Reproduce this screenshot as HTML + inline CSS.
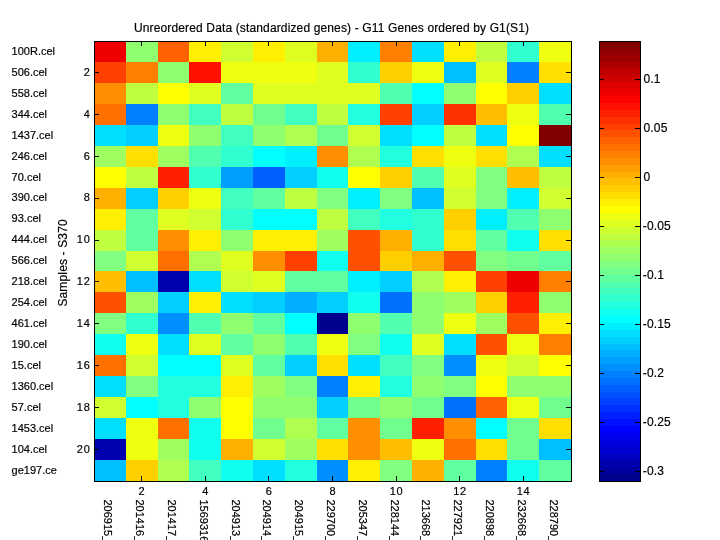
<!DOCTYPE html>
<html><head><meta charset="utf-8"><title>Heatmap</title>
<style>
html,body{margin:0;padding:0;background:#fff;}
body{width:720px;height:540px;overflow:hidden;}
svg{display:block;will-change:transform;}
text{font-family:"Liberation Sans",Arial,Helvetica,sans-serif;fill:#000;stroke:#000;stroke-width:0.18px;}
</style></head><body>
<svg width="720" height="540" viewBox="0 0 720 540">
<rect x="0" y="0" width="720" height="540" fill="#ffffff"/>
<g shape-rendering="crispEdges">
<rect x="94" y="41" width="32" height="21" fill="#ef0000"/><rect x="126" y="41" width="32" height="21" fill="#8fff70"/><rect x="158" y="41" width="31" height="21" fill="#ff6000"/><rect x="189" y="41" width="32" height="21" fill="#ffef00"/><rect x="221" y="41" width="32" height="21" fill="#cfff30"/><rect x="253" y="41" width="32" height="21" fill="#ffef00"/><rect x="285" y="41" width="32" height="21" fill="#dfff20"/><rect x="317" y="41" width="31" height="21" fill="#ffaf00"/><rect x="348" y="41" width="32" height="21" fill="#00efff"/><rect x="380" y="41" width="32" height="21" fill="#ff8000"/><rect x="412" y="41" width="32" height="21" fill="#00dfff"/><rect x="444" y="41" width="32" height="21" fill="#ffef00"/><rect x="476" y="41" width="31" height="21" fill="#bfff40"/><rect x="507" y="41" width="32" height="21" fill="#30ffcf"/><rect x="539" y="41" width="32" height="21" fill="#efff10"/>
<rect x="94" y="62" width="32" height="21" fill="#ff4000"/><rect x="126" y="62" width="32" height="21" fill="#ff8000"/><rect x="158" y="62" width="31" height="21" fill="#8fff70"/><rect x="189" y="62" width="32" height="21" fill="#ff1000"/><rect x="221" y="62" width="32" height="21" fill="#efff10"/><rect x="253" y="62" width="32" height="21" fill="#efff10"/><rect x="285" y="62" width="32" height="21" fill="#efff10"/><rect x="317" y="62" width="31" height="21" fill="#dfff20"/><rect x="348" y="62" width="32" height="21" fill="#30ffcf"/><rect x="380" y="62" width="32" height="21" fill="#ffcf00"/><rect x="412" y="62" width="32" height="21" fill="#efff10"/><rect x="444" y="62" width="32" height="21" fill="#00bfff"/><rect x="476" y="62" width="31" height="21" fill="#dfff20"/><rect x="507" y="62" width="32" height="21" fill="#0080ff"/><rect x="539" y="62" width="32" height="21" fill="#ffdf00"/>
<rect x="94" y="83" width="32" height="21" fill="#ff8f00"/><rect x="126" y="83" width="32" height="21" fill="#bfff40"/><rect x="158" y="83" width="31" height="21" fill="#ffff00"/><rect x="189" y="83" width="32" height="21" fill="#dfff20"/><rect x="221" y="83" width="32" height="21" fill="#60ff9f"/><rect x="253" y="83" width="32" height="21" fill="#dfff20"/><rect x="285" y="83" width="32" height="21" fill="#dfff20"/><rect x="317" y="83" width="31" height="21" fill="#dfff20"/><rect x="348" y="83" width="32" height="21" fill="#dfff20"/><rect x="380" y="83" width="32" height="21" fill="#50ffaf"/><rect x="412" y="83" width="32" height="21" fill="#00ffff"/><rect x="444" y="83" width="32" height="21" fill="#8fff70"/><rect x="476" y="83" width="31" height="21" fill="#ffff00"/><rect x="507" y="83" width="32" height="21" fill="#ffcf00"/><rect x="539" y="83" width="32" height="21" fill="#00dfff"/>
<rect x="94" y="104" width="32" height="21" fill="#ff7000"/><rect x="126" y="104" width="32" height="21" fill="#0080ff"/><rect x="158" y="104" width="31" height="21" fill="#8fff70"/><rect x="189" y="104" width="32" height="21" fill="#40ffbf"/><rect x="221" y="104" width="32" height="21" fill="#bfff40"/><rect x="253" y="104" width="32" height="21" fill="#70ff8f"/><rect x="285" y="104" width="32" height="21" fill="#40ffbf"/><rect x="317" y="104" width="31" height="21" fill="#bfff40"/><rect x="348" y="104" width="32" height="21" fill="#20ffdf"/><rect x="380" y="104" width="32" height="21" fill="#ff4000"/><rect x="412" y="104" width="32" height="21" fill="#00cfff"/><rect x="444" y="104" width="32" height="21" fill="#ff3000"/><rect x="476" y="104" width="31" height="21" fill="#ffbf00"/><rect x="507" y="104" width="32" height="21" fill="#efff10"/><rect x="539" y="104" width="32" height="21" fill="#50ffaf"/>
<rect x="94" y="125" width="32" height="21" fill="#00dfff"/><rect x="126" y="125" width="32" height="21" fill="#00cfff"/><rect x="158" y="125" width="31" height="21" fill="#efff10"/><rect x="189" y="125" width="32" height="21" fill="#8fff70"/><rect x="221" y="125" width="32" height="21" fill="#40ffbf"/><rect x="253" y="125" width="32" height="21" fill="#8fff70"/><rect x="285" y="125" width="32" height="21" fill="#afff50"/><rect x="317" y="125" width="31" height="21" fill="#70ff8f"/><rect x="348" y="125" width="32" height="21" fill="#cfff30"/><rect x="380" y="125" width="32" height="21" fill="#00dfff"/><rect x="412" y="125" width="32" height="21" fill="#00ffff"/><rect x="444" y="125" width="32" height="21" fill="#bfff40"/><rect x="476" y="125" width="31" height="21" fill="#00dfff"/><rect x="507" y="125" width="32" height="21" fill="#ffff00"/><rect x="539" y="125" width="32" height="21" fill="#800000"/>
<rect x="94" y="146" width="32" height="21" fill="#9fff60"/><rect x="126" y="146" width="32" height="21" fill="#ffdf00"/><rect x="158" y="146" width="31" height="21" fill="#9fff60"/><rect x="189" y="146" width="32" height="21" fill="#50ffaf"/><rect x="221" y="146" width="32" height="21" fill="#30ffcf"/><rect x="253" y="146" width="32" height="21" fill="#00ffff"/><rect x="285" y="146" width="32" height="21" fill="#00efff"/><rect x="317" y="146" width="31" height="21" fill="#ff8f00"/><rect x="348" y="146" width="32" height="21" fill="#afff50"/><rect x="380" y="146" width="32" height="21" fill="#20ffdf"/><rect x="412" y="146" width="32" height="21" fill="#ffdf00"/><rect x="444" y="146" width="32" height="21" fill="#efff10"/><rect x="476" y="146" width="31" height="21" fill="#ffdf00"/><rect x="507" y="146" width="32" height="21" fill="#afff50"/><rect x="539" y="146" width="32" height="21" fill="#00dfff"/>
<rect x="94" y="167" width="32" height="21" fill="#ffff00"/><rect x="126" y="167" width="32" height="21" fill="#bfff40"/><rect x="158" y="167" width="31" height="21" fill="#ff2000"/><rect x="189" y="167" width="32" height="21" fill="#30ffcf"/><rect x="221" y="167" width="32" height="21" fill="#009fff"/><rect x="253" y="167" width="32" height="21" fill="#0060ff"/><rect x="285" y="167" width="32" height="21" fill="#00cfff"/><rect x="317" y="167" width="31" height="21" fill="#10ffef"/><rect x="348" y="167" width="32" height="21" fill="#ffff00"/><rect x="380" y="167" width="32" height="21" fill="#ffcf00"/><rect x="412" y="167" width="32" height="21" fill="#50ffaf"/><rect x="444" y="167" width="32" height="21" fill="#dfff20"/><rect x="476" y="167" width="31" height="21" fill="#80ff80"/><rect x="507" y="167" width="32" height="21" fill="#ffbf00"/><rect x="539" y="167" width="32" height="21" fill="#bfff40"/>
<rect x="94" y="188" width="32" height="21" fill="#ffaf00"/><rect x="126" y="188" width="32" height="21" fill="#00cfff"/><rect x="158" y="188" width="31" height="21" fill="#ffcf00"/><rect x="189" y="188" width="32" height="21" fill="#efff10"/><rect x="221" y="188" width="32" height="21" fill="#40ffbf"/><rect x="253" y="188" width="32" height="21" fill="#60ff9f"/><rect x="285" y="188" width="32" height="21" fill="#bfff40"/><rect x="317" y="188" width="31" height="21" fill="#80ff80"/><rect x="348" y="188" width="32" height="21" fill="#00efff"/><rect x="380" y="188" width="32" height="21" fill="#80ff80"/><rect x="412" y="188" width="32" height="21" fill="#00bfff"/><rect x="444" y="188" width="32" height="21" fill="#cfff30"/><rect x="476" y="188" width="31" height="21" fill="#80ff80"/><rect x="507" y="188" width="32" height="21" fill="#00efff"/><rect x="539" y="188" width="32" height="21" fill="#cfff30"/>
<rect x="94" y="209" width="32" height="21" fill="#ffef00"/><rect x="126" y="209" width="32" height="21" fill="#60ff9f"/><rect x="158" y="209" width="31" height="21" fill="#dfff20"/><rect x="189" y="209" width="32" height="21" fill="#cfff30"/><rect x="221" y="209" width="32" height="21" fill="#30ffcf"/><rect x="253" y="209" width="32" height="21" fill="#00ffff"/><rect x="285" y="209" width="32" height="21" fill="#00ffff"/><rect x="317" y="209" width="31" height="21" fill="#bfff40"/><rect x="348" y="209" width="32" height="21" fill="#40ffbf"/><rect x="380" y="209" width="32" height="21" fill="#20ffdf"/><rect x="412" y="209" width="32" height="21" fill="#30ffcf"/><rect x="444" y="209" width="32" height="21" fill="#ffcf00"/><rect x="476" y="209" width="31" height="21" fill="#00efff"/><rect x="507" y="209" width="32" height="21" fill="#50ffaf"/><rect x="539" y="209" width="32" height="21" fill="#8fff70"/>
<rect x="94" y="230" width="32" height="21" fill="#bfff40"/><rect x="126" y="230" width="32" height="21" fill="#60ff9f"/><rect x="158" y="230" width="31" height="21" fill="#ff8f00"/><rect x="189" y="230" width="32" height="21" fill="#ffef00"/><rect x="221" y="230" width="32" height="21" fill="#8fff70"/><rect x="253" y="230" width="32" height="21" fill="#ffef00"/><rect x="285" y="230" width="32" height="21" fill="#ffef00"/><rect x="317" y="230" width="31" height="21" fill="#9fff60"/><rect x="348" y="230" width="32" height="21" fill="#ff5000"/><rect x="380" y="230" width="32" height="21" fill="#ffaf00"/><rect x="412" y="230" width="32" height="21" fill="#30ffcf"/><rect x="444" y="230" width="32" height="21" fill="#ffdf00"/><rect x="476" y="230" width="31" height="21" fill="#60ff9f"/><rect x="507" y="230" width="32" height="21" fill="#10ffef"/><rect x="539" y="230" width="32" height="21" fill="#ffdf00"/>
<rect x="94" y="251" width="32" height="20" fill="#80ff80"/><rect x="126" y="251" width="32" height="20" fill="#cfff30"/><rect x="158" y="251" width="31" height="20" fill="#ff7000"/><rect x="189" y="251" width="32" height="20" fill="#afff50"/><rect x="221" y="251" width="32" height="20" fill="#dfff20"/><rect x="253" y="251" width="32" height="20" fill="#ff8f00"/><rect x="285" y="251" width="32" height="20" fill="#ff4000"/><rect x="317" y="251" width="31" height="20" fill="#10ffef"/><rect x="348" y="251" width="32" height="20" fill="#ff5000"/><rect x="380" y="251" width="32" height="20" fill="#ffcf00"/><rect x="412" y="251" width="32" height="20" fill="#ffaf00"/><rect x="444" y="251" width="32" height="20" fill="#ff5000"/><rect x="476" y="251" width="31" height="20" fill="#80ff80"/><rect x="507" y="251" width="32" height="20" fill="#70ff8f"/><rect x="539" y="251" width="32" height="20" fill="#60ff9f"/>
<rect x="94" y="271" width="32" height="21" fill="#ffbf00"/><rect x="126" y="271" width="32" height="21" fill="#00bfff"/><rect x="158" y="271" width="31" height="21" fill="#0000af"/><rect x="189" y="271" width="32" height="21" fill="#00dfff"/><rect x="221" y="271" width="32" height="21" fill="#cfff30"/><rect x="253" y="271" width="32" height="21" fill="#dfff20"/><rect x="285" y="271" width="32" height="21" fill="#60ff9f"/><rect x="317" y="271" width="31" height="21" fill="#60ff9f"/><rect x="348" y="271" width="32" height="21" fill="#00efff"/><rect x="380" y="271" width="32" height="21" fill="#00cfff"/><rect x="412" y="271" width="32" height="21" fill="#afff50"/><rect x="444" y="271" width="32" height="21" fill="#ffef00"/><rect x="476" y="271" width="31" height="21" fill="#ff4000"/><rect x="507" y="271" width="32" height="21" fill="#ef0000"/><rect x="539" y="271" width="32" height="21" fill="#ff8000"/>
<rect x="94" y="292" width="32" height="21" fill="#ff5000"/><rect x="126" y="292" width="32" height="21" fill="#9fff60"/><rect x="158" y="292" width="31" height="21" fill="#00cfff"/><rect x="189" y="292" width="32" height="21" fill="#ffef00"/><rect x="221" y="292" width="32" height="21" fill="#00dfff"/><rect x="253" y="292" width="32" height="21" fill="#00cfff"/><rect x="285" y="292" width="32" height="21" fill="#00afff"/><rect x="317" y="292" width="31" height="21" fill="#00cfff"/><rect x="348" y="292" width="32" height="21" fill="#10ffef"/><rect x="380" y="292" width="32" height="21" fill="#0070ff"/><rect x="412" y="292" width="32" height="21" fill="#8fff70"/><rect x="444" y="292" width="32" height="21" fill="#9fff60"/><rect x="476" y="292" width="31" height="21" fill="#ffcf00"/><rect x="507" y="292" width="32" height="21" fill="#ff2000"/><rect x="539" y="292" width="32" height="21" fill="#8fff70"/>
<rect x="94" y="313" width="32" height="21" fill="#80ff80"/><rect x="126" y="313" width="32" height="21" fill="#30ffcf"/><rect x="158" y="313" width="31" height="21" fill="#008fff"/><rect x="189" y="313" width="32" height="21" fill="#50ffaf"/><rect x="221" y="313" width="32" height="21" fill="#8fff70"/><rect x="253" y="313" width="32" height="21" fill="#60ff9f"/><rect x="285" y="313" width="32" height="21" fill="#00ffff"/><rect x="317" y="313" width="31" height="21" fill="#00008f"/><rect x="348" y="313" width="32" height="21" fill="#8fff70"/><rect x="380" y="313" width="32" height="21" fill="#50ffaf"/><rect x="412" y="313" width="32" height="21" fill="#8fff70"/><rect x="444" y="313" width="32" height="21" fill="#efff10"/><rect x="476" y="313" width="31" height="21" fill="#9fff60"/><rect x="507" y="313" width="32" height="21" fill="#ff5000"/><rect x="539" y="313" width="32" height="21" fill="#ffef00"/>
<rect x="94" y="334" width="32" height="21" fill="#10ffef"/><rect x="126" y="334" width="32" height="21" fill="#efff10"/><rect x="158" y="334" width="31" height="21" fill="#00dfff"/><rect x="189" y="334" width="32" height="21" fill="#dfff20"/><rect x="221" y="334" width="32" height="21" fill="#60ff9f"/><rect x="253" y="334" width="32" height="21" fill="#8fff70"/><rect x="285" y="334" width="32" height="21" fill="#50ffaf"/><rect x="317" y="334" width="31" height="21" fill="#efff10"/><rect x="348" y="334" width="32" height="21" fill="#80ff80"/><rect x="380" y="334" width="32" height="21" fill="#10ffef"/><rect x="412" y="334" width="32" height="21" fill="#dfff20"/><rect x="444" y="334" width="32" height="21" fill="#00dfff"/><rect x="476" y="334" width="31" height="21" fill="#ff5000"/><rect x="507" y="334" width="32" height="21" fill="#efff10"/><rect x="539" y="334" width="32" height="21" fill="#ff8000"/>
<rect x="94" y="355" width="32" height="21" fill="#ff7000"/><rect x="126" y="355" width="32" height="21" fill="#cfff30"/><rect x="158" y="355" width="31" height="21" fill="#00ffff"/><rect x="189" y="355" width="32" height="21" fill="#00ffff"/><rect x="221" y="355" width="32" height="21" fill="#dfff20"/><rect x="253" y="355" width="32" height="21" fill="#60ff9f"/><rect x="285" y="355" width="32" height="21" fill="#00cfff"/><rect x="317" y="355" width="31" height="21" fill="#ffdf00"/><rect x="348" y="355" width="32" height="21" fill="#00dfff"/><rect x="380" y="355" width="32" height="21" fill="#40ffbf"/><rect x="412" y="355" width="32" height="21" fill="#80ff80"/><rect x="444" y="355" width="32" height="21" fill="#008fff"/><rect x="476" y="355" width="31" height="21" fill="#efff10"/><rect x="507" y="355" width="32" height="21" fill="#cfff30"/><rect x="539" y="355" width="32" height="21" fill="#ffff00"/>
<rect x="94" y="376" width="32" height="21" fill="#00dfff"/><rect x="126" y="376" width="32" height="21" fill="#80ff80"/><rect x="158" y="376" width="31" height="21" fill="#20ffdf"/><rect x="189" y="376" width="32" height="21" fill="#20ffdf"/><rect x="221" y="376" width="32" height="21" fill="#ffef00"/><rect x="253" y="376" width="32" height="21" fill="#9fff60"/><rect x="285" y="376" width="32" height="21" fill="#80ff80"/><rect x="317" y="376" width="31" height="21" fill="#0080ff"/><rect x="348" y="376" width="32" height="21" fill="#ffef00"/><rect x="380" y="376" width="32" height="21" fill="#20ffdf"/><rect x="412" y="376" width="32" height="21" fill="#8fff70"/><rect x="444" y="376" width="32" height="21" fill="#80ff80"/><rect x="476" y="376" width="31" height="21" fill="#ffff00"/><rect x="507" y="376" width="32" height="21" fill="#8fff70"/><rect x="539" y="376" width="32" height="21" fill="#8fff70"/>
<rect x="94" y="397" width="32" height="21" fill="#cfff30"/><rect x="126" y="397" width="32" height="21" fill="#00ffff"/><rect x="158" y="397" width="31" height="21" fill="#20ffdf"/><rect x="189" y="397" width="32" height="21" fill="#8fff70"/><rect x="221" y="397" width="32" height="21" fill="#ffff00"/><rect x="253" y="397" width="32" height="21" fill="#8fff70"/><rect x="285" y="397" width="32" height="21" fill="#8fff70"/><rect x="317" y="397" width="31" height="21" fill="#00cfff"/><rect x="348" y="397" width="32" height="21" fill="#70ff8f"/><rect x="380" y="397" width="32" height="21" fill="#8fff70"/><rect x="412" y="397" width="32" height="21" fill="#70ff8f"/><rect x="444" y="397" width="32" height="21" fill="#0070ff"/><rect x="476" y="397" width="31" height="21" fill="#ff6000"/><rect x="507" y="397" width="32" height="21" fill="#efff10"/><rect x="539" y="397" width="32" height="21" fill="#70ff8f"/>
<rect x="94" y="418" width="32" height="21" fill="#00dfff"/><rect x="126" y="418" width="32" height="21" fill="#efff10"/><rect x="158" y="418" width="31" height="21" fill="#ff7000"/><rect x="189" y="418" width="32" height="21" fill="#10ffef"/><rect x="221" y="418" width="32" height="21" fill="#ffff00"/><rect x="253" y="418" width="32" height="21" fill="#70ff8f"/><rect x="285" y="418" width="32" height="21" fill="#afff50"/><rect x="317" y="418" width="31" height="21" fill="#60ff9f"/><rect x="348" y="418" width="32" height="21" fill="#ff8f00"/><rect x="380" y="418" width="32" height="21" fill="#70ff8f"/><rect x="412" y="418" width="32" height="21" fill="#ff2000"/><rect x="444" y="418" width="32" height="21" fill="#ff8f00"/><rect x="476" y="418" width="31" height="21" fill="#00ffff"/><rect x="507" y="418" width="32" height="21" fill="#70ff8f"/><rect x="539" y="418" width="32" height="21" fill="#ffdf00"/>
<rect x="94" y="439" width="32" height="21" fill="#0000af"/><rect x="126" y="439" width="32" height="21" fill="#efff10"/><rect x="158" y="439" width="31" height="21" fill="#9fff60"/><rect x="189" y="439" width="32" height="21" fill="#10ffef"/><rect x="221" y="439" width="32" height="21" fill="#ffaf00"/><rect x="253" y="439" width="32" height="21" fill="#cfff30"/><rect x="285" y="439" width="32" height="21" fill="#9fff60"/><rect x="317" y="439" width="31" height="21" fill="#ffdf00"/><rect x="348" y="439" width="32" height="21" fill="#ff8f00"/><rect x="380" y="439" width="32" height="21" fill="#ffbf00"/><rect x="412" y="439" width="32" height="21" fill="#efff10"/><rect x="444" y="439" width="32" height="21" fill="#ff7000"/><rect x="476" y="439" width="31" height="21" fill="#ffdf00"/><rect x="507" y="439" width="32" height="21" fill="#70ff8f"/><rect x="539" y="439" width="32" height="21" fill="#00bfff"/>
<rect x="94" y="460" width="32" height="21" fill="#00bfff"/><rect x="126" y="460" width="32" height="21" fill="#ffcf00"/><rect x="158" y="460" width="31" height="21" fill="#afff50"/><rect x="189" y="460" width="32" height="21" fill="#40ffbf"/><rect x="221" y="460" width="32" height="21" fill="#10ffef"/><rect x="253" y="460" width="32" height="21" fill="#00dfff"/><rect x="285" y="460" width="32" height="21" fill="#20ffdf"/><rect x="317" y="460" width="31" height="21" fill="#008fff"/><rect x="348" y="460" width="32" height="21" fill="#ffef00"/><rect x="380" y="460" width="32" height="21" fill="#80ff80"/><rect x="412" y="460" width="32" height="21" fill="#ffaf00"/><rect x="444" y="460" width="32" height="21" fill="#60ff9f"/><rect x="476" y="460" width="31" height="21" fill="#0080ff"/><rect x="507" y="460" width="32" height="21" fill="#10ffef"/><rect x="539" y="460" width="32" height="21" fill="#60ff9f"/>
<rect x="599" y="41" width="42" height="7" fill="#800000"/><rect x="599" y="48" width="42" height="7" fill="#8f0000"/><rect x="599" y="55" width="42" height="7" fill="#9f0000"/><rect x="599" y="62" width="42" height="6" fill="#af0000"/><rect x="599" y="68" width="42" height="7" fill="#bf0000"/><rect x="599" y="75" width="42" height="7" fill="#cf0000"/><rect x="599" y="82" width="42" height="7" fill="#df0000"/><rect x="599" y="89" width="42" height="7" fill="#ef0000"/><rect x="599" y="96" width="42" height="7" fill="#ff0000"/><rect x="599" y="103" width="42" height="7" fill="#ff1000"/><rect x="599" y="110" width="42" height="7" fill="#ff2000"/><rect x="599" y="117" width="42" height="7" fill="#ff3000"/><rect x="599" y="124" width="42" height="6" fill="#ff4000"/><rect x="599" y="130" width="42" height="7" fill="#ff5000"/><rect x="599" y="137" width="42" height="7" fill="#ff6000"/><rect x="599" y="144" width="42" height="7" fill="#ff7000"/><rect x="599" y="151" width="42" height="7" fill="#ff8000"/><rect x="599" y="158" width="42" height="7" fill="#ff8f00"/><rect x="599" y="165" width="42" height="7" fill="#ff9f00"/><rect x="599" y="172" width="42" height="6" fill="#ffaf00"/><rect x="599" y="178" width="42" height="7" fill="#ffbf00"/><rect x="599" y="185" width="42" height="7" fill="#ffcf00"/><rect x="599" y="192" width="42" height="7" fill="#ffdf00"/><rect x="599" y="199" width="42" height="7" fill="#ffef00"/><rect x="599" y="206" width="42" height="7" fill="#ffff00"/><rect x="599" y="213" width="42" height="7" fill="#efff10"/><rect x="599" y="220" width="42" height="7" fill="#dfff20"/><rect x="599" y="227" width="42" height="7" fill="#cfff30"/><rect x="599" y="234" width="42" height="6" fill="#bfff40"/><rect x="599" y="240" width="42" height="7" fill="#afff50"/><rect x="599" y="247" width="42" height="7" fill="#9fff60"/><rect x="599" y="254" width="42" height="7" fill="#8fff70"/><rect x="599" y="261" width="42" height="7" fill="#80ff80"/><rect x="599" y="268" width="42" height="7" fill="#70ff8f"/><rect x="599" y="275" width="42" height="7" fill="#60ff9f"/><rect x="599" y="282" width="42" height="6" fill="#50ffaf"/><rect x="599" y="288" width="42" height="7" fill="#40ffbf"/><rect x="599" y="295" width="42" height="7" fill="#30ffcf"/><rect x="599" y="302" width="42" height="7" fill="#20ffdf"/><rect x="599" y="309" width="42" height="7" fill="#10ffef"/><rect x="599" y="316" width="42" height="7" fill="#00ffff"/><rect x="599" y="323" width="42" height="7" fill="#00efff"/><rect x="599" y="330" width="42" height="7" fill="#00dfff"/><rect x="599" y="337" width="42" height="7" fill="#00cfff"/><rect x="599" y="344" width="42" height="6" fill="#00bfff"/><rect x="599" y="350" width="42" height="7" fill="#00afff"/><rect x="599" y="357" width="42" height="7" fill="#009fff"/><rect x="599" y="364" width="42" height="7" fill="#008fff"/><rect x="599" y="371" width="42" height="7" fill="#0080ff"/><rect x="599" y="378" width="42" height="7" fill="#0070ff"/><rect x="599" y="385" width="42" height="7" fill="#0060ff"/><rect x="599" y="392" width="42" height="6" fill="#0050ff"/><rect x="599" y="398" width="42" height="7" fill="#0040ff"/><rect x="599" y="405" width="42" height="7" fill="#0030ff"/><rect x="599" y="412" width="42" height="7" fill="#0020ff"/><rect x="599" y="419" width="42" height="7" fill="#0010ff"/><rect x="599" y="426" width="42" height="7" fill="#0000ff"/><rect x="599" y="433" width="42" height="7" fill="#0000ef"/><rect x="599" y="440" width="42" height="7" fill="#0000df"/><rect x="599" y="447" width="42" height="7" fill="#0000cf"/><rect x="599" y="454" width="42" height="6" fill="#0000bf"/><rect x="599" y="460" width="42" height="7" fill="#0000af"/><rect x="599" y="467" width="42" height="7" fill="#00009f"/><rect x="599" y="474" width="42" height="7" fill="#00008f"/>
<rect x="94" y="41" width="478" height="1" fill="#000"/><rect x="94" y="481" width="478" height="1" fill="#000"/><rect x="94" y="41" width="1" height="441" fill="#000"/><rect x="571" y="41" width="1" height="441" fill="#000"/><rect x="599" y="41" width="42" height="1" fill="#000"/><rect x="599" y="481" width="42" height="1" fill="#000"/><rect x="599" y="41" width="1" height="441" fill="#000"/><rect x="640" y="41" width="1" height="441" fill="#000"/>
<rect x="141" y="476" width="1" height="6" fill="#000"/><rect x="141" y="41" width="1" height="5" fill="#000"/><rect x="205" y="476" width="1" height="6" fill="#000"/><rect x="205" y="41" width="1" height="5" fill="#000"/><rect x="268" y="476" width="1" height="6" fill="#000"/><rect x="268" y="41" width="1" height="5" fill="#000"/><rect x="332" y="476" width="1" height="6" fill="#000"/><rect x="332" y="41" width="1" height="5" fill="#000"/><rect x="396" y="476" width="1" height="6" fill="#000"/><rect x="396" y="41" width="1" height="5" fill="#000"/><rect x="459" y="476" width="1" height="6" fill="#000"/><rect x="459" y="41" width="1" height="5" fill="#000"/><rect x="523" y="476" width="1" height="6" fill="#000"/><rect x="523" y="41" width="1" height="5" fill="#000"/><rect x="94" y="72" width="5" height="1" fill="#000"/><rect x="566" y="72" width="6" height="1" fill="#000"/><rect x="94" y="114" width="5" height="1" fill="#000"/><rect x="566" y="114" width="6" height="1" fill="#000"/><rect x="94" y="156" width="5" height="1" fill="#000"/><rect x="566" y="156" width="6" height="1" fill="#000"/><rect x="94" y="198" width="5" height="1" fill="#000"/><rect x="566" y="198" width="6" height="1" fill="#000"/><rect x="94" y="240" width="5" height="1" fill="#000"/><rect x="566" y="240" width="6" height="1" fill="#000"/><rect x="94" y="281" width="5" height="1" fill="#000"/><rect x="566" y="281" width="6" height="1" fill="#000"/><rect x="94" y="323" width="5" height="1" fill="#000"/><rect x="566" y="323" width="6" height="1" fill="#000"/><rect x="94" y="365" width="5" height="1" fill="#000"/><rect x="566" y="365" width="6" height="1" fill="#000"/><rect x="94" y="407" width="5" height="1" fill="#000"/><rect x="566" y="407" width="6" height="1" fill="#000"/><rect x="94" y="449" width="5" height="1" fill="#000"/><rect x="566" y="449" width="6" height="1" fill="#000"/><rect x="599" y="79" width="5" height="1" fill="#000"/><rect x="635" y="79" width="6" height="1" fill="#000"/><rect x="599" y="128" width="5" height="1" fill="#000"/><rect x="635" y="128" width="6" height="1" fill="#000"/><rect x="599" y="177" width="5" height="1" fill="#000"/><rect x="635" y="177" width="6" height="1" fill="#000"/><rect x="599" y="226" width="5" height="1" fill="#000"/><rect x="635" y="226" width="6" height="1" fill="#000"/><rect x="599" y="275" width="5" height="1" fill="#000"/><rect x="635" y="275" width="6" height="1" fill="#000"/><rect x="599" y="324" width="5" height="1" fill="#000"/><rect x="635" y="324" width="6" height="1" fill="#000"/><rect x="599" y="373" width="5" height="1" fill="#000"/><rect x="635" y="373" width="6" height="1" fill="#000"/><rect x="599" y="422" width="5" height="1" fill="#000"/><rect x="635" y="422" width="6" height="1" fill="#000"/><rect x="599" y="471" width="5" height="1" fill="#000"/><rect x="635" y="471" width="6" height="1" fill="#000"/></g>
<text x="134.0" y="31.5" font-size="12.00" textLength="395.0" lengthAdjust="spacing">Unreordered Data (standardized genes) - G11 Genes ordered by G1(S1)</text>
<text x="11.6" y="54.8" font-size="11.00">100R.cel</text>
<text x="11.6" y="75.7" font-size="11.00">506.cel</text>
<text x="11.6" y="96.7" font-size="11.00">558.cel</text>
<text x="11.6" y="117.6" font-size="11.00">344.cel</text>
<text x="11.6" y="138.6" font-size="11.00">1437.cel</text>
<text x="11.6" y="159.5" font-size="11.00">246.cel</text>
<text x="11.6" y="180.5" font-size="11.00">70.cel</text>
<text x="11.6" y="201.4" font-size="11.00">390.cel</text>
<text x="11.6" y="222.4" font-size="11.00">93.cel</text>
<text x="11.6" y="243.3" font-size="11.00">444.cel</text>
<text x="11.6" y="264.3" font-size="11.00">566.cel</text>
<text x="11.6" y="285.3" font-size="11.00">218.cel</text>
<text x="11.6" y="306.2" font-size="11.00">254.cel</text>
<text x="11.6" y="327.2" font-size="11.00">461.cel</text>
<text x="11.6" y="348.1" font-size="11.00">190.cel</text>
<text x="11.6" y="369.1" font-size="11.00">15.cel</text>
<text x="11.6" y="390.0" font-size="11.00">1360.cel</text>
<text x="11.6" y="411.0" font-size="11.00">57.cel</text>
<text x="11.6" y="431.9" font-size="11.00">1453.cel</text>
<text x="11.6" y="452.9" font-size="11.00">104.cel</text>
<text x="11.6" y="473.8" font-size="11.00">ge197.ce</text>
<text x="90.5" y="75.7" font-size="11.00" text-anchor="end" letter-spacing="0.7">2</text>
<text x="90.5" y="117.6" font-size="11.00" text-anchor="end" letter-spacing="0.7">4</text>
<text x="90.5" y="159.5" font-size="11.00" text-anchor="end" letter-spacing="0.7">6</text>
<text x="90.5" y="201.4" font-size="11.00" text-anchor="end" letter-spacing="0.7">8</text>
<text x="90.5" y="243.3" font-size="11.00" text-anchor="end" letter-spacing="0.7">10</text>
<text x="90.5" y="285.3" font-size="11.00" text-anchor="end" letter-spacing="0.7">12</text>
<text x="90.5" y="327.2" font-size="11.00" text-anchor="end" letter-spacing="0.7">14</text>
<text x="90.5" y="369.1" font-size="11.00" text-anchor="end" letter-spacing="0.7">16</text>
<text x="90.5" y="411.0" font-size="11.00" text-anchor="end" letter-spacing="0.7">18</text>
<text x="90.5" y="452.9" font-size="11.00" text-anchor="end" letter-spacing="0.7">20</text>
<text x="142.0" y="495.4" font-size="11.00" text-anchor="middle" letter-spacing="0.7">2</text>
<text x="205.7" y="495.4" font-size="11.00" text-anchor="middle" letter-spacing="0.7">4</text>
<text x="269.2" y="495.4" font-size="11.00" text-anchor="middle" letter-spacing="0.7">6</text>
<text x="332.9" y="495.4" font-size="11.00" text-anchor="middle" letter-spacing="0.7">8</text>
<text x="396.5" y="495.4" font-size="11.00" text-anchor="middle" letter-spacing="0.7">10</text>
<text x="460.1" y="495.4" font-size="11.00" text-anchor="middle" letter-spacing="0.7">12</text>
<text x="523.6" y="495.4" font-size="11.00" text-anchor="middle" letter-spacing="0.7">14</text>
<text transform="translate(104.3,499.5) rotate(90)" font-size="11.00">206915_</text>
<text transform="translate(136.1,499.5) rotate(90)" font-size="11.00">201416_</text>
<text transform="translate(167.9,499.5) rotate(90)" font-size="11.00">201417_</text>
<text transform="translate(199.7,499.5) rotate(90)" font-size="11.00">1569316</text>
<text transform="translate(231.5,499.5) rotate(90)" font-size="11.00">204913_</text>
<text transform="translate(263.3,499.5) rotate(90)" font-size="11.00">204914_</text>
<text transform="translate(295.1,499.5) rotate(90)" font-size="11.00">204915_</text>
<text transform="translate(326.9,499.5) rotate(90)" font-size="11.00">229700_</text>
<text transform="translate(358.7,499.5) rotate(90)" font-size="11.00">205347_</text>
<text transform="translate(390.5,499.5) rotate(90)" font-size="11.00">228144_</text>
<text transform="translate(422.3,499.5) rotate(90)" font-size="11.00">213668_</text>
<text transform="translate(454.1,499.5) rotate(90)" font-size="11.00">227921_</text>
<text transform="translate(485.9,499.5) rotate(90)" font-size="11.00">220898_</text>
<text transform="translate(517.7,499.5) rotate(90)" font-size="11.00">232668_</text>
<text transform="translate(549.5,499.5) rotate(90)" font-size="11.00">228790_</text>
<text transform="translate(66.8,306.6) rotate(-90)" font-size="12" textLength="87.3" lengthAdjust="spacing">Samples - S370</text>
<text x="643.5" y="83.2" font-size="12" letter-spacing="0.15">0.1</text>
<text x="643.5" y="132.2" font-size="12" letter-spacing="0.15">0.05</text>
<text x="643.5" y="181.2" font-size="12" letter-spacing="0.15">0</text>
<text x="642.8" y="230.2" font-size="12" letter-spacing="0.15">-0.05</text>
<text x="642.8" y="279.2" font-size="12" letter-spacing="0.15">-0.1</text>
<text x="642.8" y="328.2" font-size="12" letter-spacing="0.15">-0.15</text>
<text x="642.8" y="377.2" font-size="12" letter-spacing="0.15">-0.2</text>
<text x="642.8" y="426.2" font-size="12" letter-spacing="0.15">-0.25</text>
<text x="642.8" y="475.2" font-size="12" letter-spacing="0.15">-0.3</text>
</svg>
</body></html>
